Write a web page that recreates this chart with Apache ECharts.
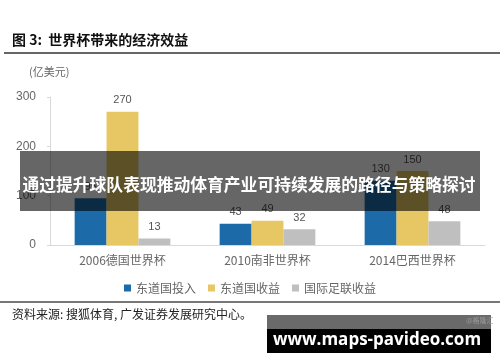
<!DOCTYPE html>
<html><head><meta charset="utf-8">
<script src="https://cdn.jsdelivr.net/npm/echarts@6/dist/echarts.min.js"></script>
<style>html,body{margin:0;padding:0;background:#fff}#c{width:500px;height:362px}</style>
</head><body><div id="c"></div>
<script>
const categories = ['2006德国世界杯', '2010南非世界杯', '2014巴西世界杯'];
const hostInvest = [95, 43, 130];
const hostRevenue = [270, 49, 150];
const fifaRevenue = [13, 32, 48];
const seriesNames = ['东道国投入', '东道国收益', '国际足联收益'];
const yTicks = [0, 100, 200, 300];

const chart = echarts.init(document.getElementById('c'), null, {renderer: 'canvas'});
const cjk = '"Noto Sans CJK SC", sans-serif';
const lbl = {show: true, position: 'top', color: '#555', fontSize: 11, fontFamily: 'Liberation Sans, Arial', distance: 6};
chart.setOption({
  animation: false,
  color: ['#1c6aa7', '#e6c763', '#bfbfbf'],
  grid: {left: 50, right: 15, top: 97, bottom: 117},
  legend: {
    data: seriesNames, top: 277, left: 'center', icon: 'rect', itemWidth: 7, itemHeight: 7, itemGap: 12,
    textStyle: {color: '#666', fontSize: 12, fontFamily: cjk}
  },
  xAxis: {
    type: 'category', data: categories,
    axisLine: {lineStyle: {color: '#d9d9d9'}}, axisTick: {show: false},
    axisLabel: {color: '#666', fontSize: 12, margin: 9, fontFamily: cjk}
  },
  yAxis: {
    type: 'value', min: yTicks[0], max: yTicks[yTicks.length - 1], interval: 100,
    axisLine: {show: true, lineStyle: {color: '#d9d9d9'}},
    axisTick: {show: true, length: 3, lineStyle: {color: '#d9d9d9'}},
    splitLine: {show: false},
    axisLabel: {color: '#666', fontSize: 12, margin: 14, fontFamily: 'Liberation Sans, Arial'}
  },
  series: [
    {name: seriesNames[0], type: 'bar', data: hostInvest, barGap: '0%', barCategoryGap: '34%', label: lbl},
    {name: seriesNames[1], type: 'bar', data: hostRevenue, label: lbl},
    {name: seriesNames[2], type: 'bar', data: fifaRevenue, label: lbl}
  ],
  graphic: [
    {type: 'text', left: 12, top: 33, style: {text: '图 3:  世界杯带来的经济效益', fill: '#111', font: 'bold 14px ' + cjk}},
    {type: 'line', shape: {x1: 4, y1: 53, x2: 500, y2: 53}, style: {stroke: '#333', lineWidth: 1.5}},
    {type: 'text', left: 29, top: 66, style: {text: '(亿美元)', fill: '#666', font: '11px ' + cjk}},
    {type: 'line', shape: {x1: 0, y1: 302, x2: 500, y2: 302}, style: {stroke: '#777', lineWidth: 2}},
    {type: 'text', left: 12, top: 308, style: {text: '资料来源: 搜狐体育, 广发证券发展研究中心。', fill: '#222', font: '12px ' + cjk}},
    {type: 'rect', z: 100, shape: {x: 20, y: 151, width: 460, height: 60}, style: {fill: 'rgba(0,0,0,0.6)'}},
    {type: 'text', z: 101, x: 249, y: 185, style: {text: '通过提升球队表现推动体育产业可持续发展的路径与策略探讨', fill: '#fff', font: 'bold 16.8px ' + cjk, align: 'center', verticalAlign: 'middle'}},
    {type: 'rect', z: 100, shape: {x: 267, y: 315, width: 224, height: 38}, style: {fill: '#000'}},
    {type: 'rect', z: 100, shape: {x: 267, y: 315, width: 224, height: 14}, style: {fill: '#6a6a6a'}},
    {type: 'text', z: 101, left: 466, top: 317, style: {text: '@格隆汇', fill: '#999', font: '7px ' + cjk}},
    {type: 'text', z: 101, x: 377, y: 340, style: {text: 'www.maps-pavideo.com', fill: '#fff', font: 'bold 17px "Open Sans", sans-serif', align: 'center', verticalAlign: 'middle'}}
  ]
});
</script></body></html>
